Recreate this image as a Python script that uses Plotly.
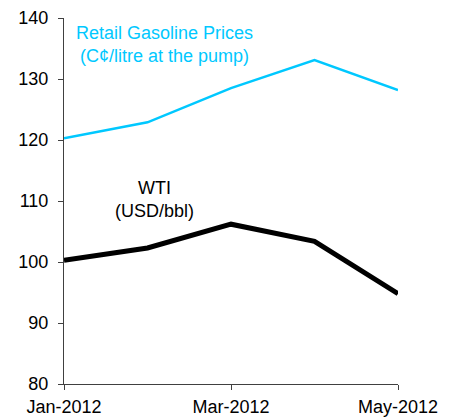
import plotly.graph_objects as go

months = ["Jan-2012", "Feb-2012", "Mar-2012", "Apr-2012", "May-2012"]
gasoline = [120.3, 122.9, 128.5, 133.1, 128.2]
wti = [100.3, 102.3, 106.2, 103.4, 94.8]
x_ticks = ["Jan-2012", "Mar-2012", "May-2012"]
y_ticks = [80, 90, 100, 110, 120, 130, 140]

FONT = "Liberation Sans, Arial, sans-serif"

fig = go.Figure()
fig.add_trace(go.Scatter(x=months, y=gasoline, mode="lines",
                         line=dict(color="#00C8FF", width=2.5), showlegend=False))
fig.add_trace(go.Scatter(x=months, y=wti, mode="lines",
                         line=dict(color="#000000", width=5), showlegend=False))

fig.add_annotation(x=1.2, y=135.6, xref="x", yref="y",
                   text="Retail Gasoline Prices<br>(C¢/litre at the pump)",
                   showarrow=False, font=dict(family=FONT, size=18, color="#00C8FF"),
                   align="center")
fig.add_annotation(x=1.08, y=110.3, xref="x", yref="y",
                   text="WTI<br>(USD/bbl)",
                   showarrow=False, font=dict(family=FONT, size=18, color="#000000"),
                   align="center")

fig.update_xaxes(type="category", categoryorder="array", categoryarray=months,
                 range=[0, 4], tickvals=x_ticks, ticktext=x_ticks,
                 showline=True, linecolor="#404040", linewidth=1,
                 ticks="outside", ticklen=5, tickcolor="#404040",
                 showgrid=False, zeroline=False, automargin=False,
                 ticklabelstandoff=1,
                 tickfont=dict(family=FONT, size=18, color="#000000"))
fig.update_yaxes(range=[80, 140], tickvals=y_ticks,
                 showline=True, linecolor="#404040", linewidth=1,
                 ticks="outside", ticklen=5, tickcolor="#404040",
                 showgrid=False, zeroline=False, automargin=False,
                 ticklabelstandoff=6,
                 tickfont=dict(family=FONT, size=18, color="#000000"))

fig.update_layout(width=453, height=419,
                  margin=dict(l=56, r=63, t=10, b=43),
                  plot_bgcolor="white", paper_bgcolor="white",
                  font=dict(family=FONT))

fig.write_html("out.html")
